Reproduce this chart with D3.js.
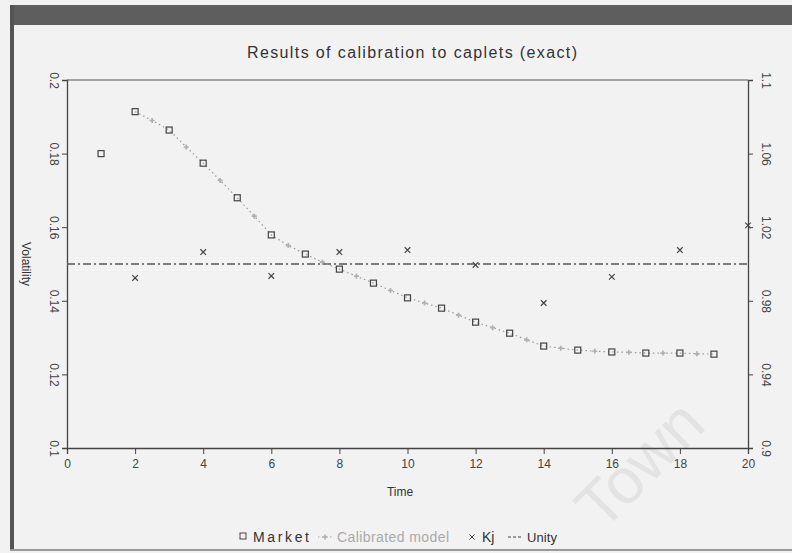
<!DOCTYPE html>
<html><head><meta charset="utf-8">
<script src="https://cdn.jsdelivr.net/npm/d3@7/dist/d3.min.js"></script>
<style>
body{margin:0;background:#f1f1f1;}
text{font-family:"Liberation Sans",Arial,sans-serif;fill:#333;}
</style></head>
<body><svg id="c" width="792" height="553"></svg>
<script>
const marketT = [1,2,3,4,5,6,7,8,9,10,11,12,13,14,15,16,17,18,19];
const marketV = [0.180,0.1914,0.1864,0.1774,0.168,0.1579,0.1527,0.1486,0.1448,0.1408,0.138,0.1342,0.1312,0.1277,0.1266,0.1261,0.1258,0.1258,0.1255];
const modelT = [2,2.5,3,3.5,4,4.5,5,5.5,6,6.5,7,7.5,8,8.5,9,9.5,10,10.5,11,11.5,12,12.5,13,13.5,14,14.5,15,15.5,16,16.5,17,17.5,18,18.5,19];
const modelV = [0.1914,0.189,0.1864,0.1818,0.1774,0.1727,0.168,0.163,0.1579,0.155,0.1527,0.1505,0.1486,0.1467,0.1448,0.1428,0.1408,0.1394,0.138,0.1361,0.1342,0.1327,0.1312,0.1294,0.1277,0.1271,0.1266,0.1263,0.1261,0.126,0.1258,0.1258,0.1258,0.1256,0.1255];
const kjT = [2,4,6,8,10,12,14,16,18,20];
const kjV = [0.9924,1.0065,0.9935,1.0065,1.0076,0.9995,0.9788,0.993,1.0076,1.021];
const unityT = [0,20];
const unityV = [1,1];
const xTicks = [0,2,4,6,8,10,12,14,16,18,20];
const yTicksL = [0.1,0.12,0.14,0.16,0.18,0.2];
const yTicksR = [0.9,0.94,0.98,1.02,1.06,1.1];
const title = "Results of calibration to caplets (exact)";
const legendLabels = ["Market","Calibrated model","Kj","Unity"];

const svg = d3.select("#c");
const L=67,R=748,T=80,B=448;
const x = d3.scaleLinear().domain([0,20]).range([L,R]);
const yL = d3.scaleLinear().domain([0.1,0.2]).range([B,T]);
const yR = d3.scaleLinear().domain([0.9,1.1]).range([B,T]);

// window frame
svg.append("rect").attr("x",0).attr("y",0).attr("width",792).attr("height",553).attr("fill","#f2f2f2");
svg.append("rect").attr("x",10).attr("y",5).attr("width",782).attr("height",20).attr("fill","#5e5e5e");
svg.append("rect").attr("x",10).attr("y",5).attr("width",4).attr("height",546).attr("fill","#555");
svg.append("rect").attr("x",10).attr("y",549).attr("width",782).attr("height",2).attr("fill","#999");

// watermark
svg.append("text").attr("transform","translate(655,480) rotate(-45)").attr("text-anchor","middle")
  .style("font-size","64px").style("fill","#e3e3e3").text("Town");

// title
svg.append("text").attr("x",247).attr("y",58).attr("textLength",330).attr("lengthAdjust","spacing")
  .style("font-size","16px").text(title);

// frame line top
svg.append("line").attr("x1",L).attr("x2",R).attr("y1",T).attr("y2",T).attr("stroke","#555").attr("stroke-width",1.2);

// axes
const ax = svg.append("g").attr("transform",`translate(0,${B})`).call(d3.axisBottom(x).tickValues(xTicks).tickSize(6).tickFormat(d3.format("d")));
const axL = svg.append("g").attr("transform",`translate(${L},0)`).call(d3.axisLeft(yL).tickValues(yTicksL).tickSize(5).tickFormat(d=>d3.format(".2~f")(d)));
const axR = svg.append("g").attr("transform",`translate(${R},0)`).call(d3.axisRight(yR).tickValues(yTicksR).tickSize(5).tickFormat(d=>d3.format(".2~f")(d)));
[ax,axL,axR].forEach(g=>{g.select(".domain").attr("stroke","#444").attr("stroke-width",1.3);g.selectAll(".tick line").attr("stroke","#444");g.selectAll("text").style("font-size","12px").style("fill","#444").style("font-family","Liberation Sans, Arial");});
ax.selectAll(".tick text").attr("dy","0.95em");
axL.selectAll(".tick text").attr("x",null).attr("dy",null).attr("text-anchor","middle").attr("transform","translate(-13,0) rotate(90)").attr("dy","0.35em");
axR.selectAll(".tick text").attr("x",null).attr("dy",null).attr("text-anchor","middle").attr("transform","translate(18,0) rotate(90)").attr("dy","0.35em");

svg.append("text").attr("x",400).attr("y",496).attr("text-anchor","middle").style("font-size","12px").text("Time");
svg.append("text").attr("transform","translate(22,264) rotate(90)").attr("text-anchor","middle").style("font-size","12px").text("Volatility");

// unity
svg.append("path").datum(unityT.map((t,i)=>[t,unityV[i]]))
  .attr("d",d3.line().x(d=>x(d[0])).y(d=>yR(d[1]))).attr("fill","none").attr("stroke","#555").attr("stroke-width",1.3).attr("stroke-dasharray","8,3,2,3");

// model
const md = modelT.map((t,i)=>[t,modelV[i]]);
svg.append("path").datum(md).attr("d",d3.line().x(d=>x(d[0])).y(d=>yL(d[1]))).attr("fill","none").attr("stroke","#999").attr("stroke-width",1.2).attr("stroke-dasharray","1.5,3");
svg.append("g").selectAll("path").data(md.filter(d=>d[0]%1!==0)).join("path")
  .attr("d",d3.symbol(d3.symbolCross,14)).attr("transform",d=>`translate(${x(d[0])},${yL(d[1])})`).attr("fill","#b0b0b0");

// market
svg.append("g").selectAll("rect").data(marketT.map((t,i)=>[t,marketV[i]])).join("rect")
  .attr("x",d=>x(d[0])-3).attr("y",d=>yL(d[1])-3).attr("width",6).attr("height",6)
  .attr("fill","none").attr("stroke","#444").attr("stroke-width",1.2);

// Kj
svg.append("g").selectAll("path").data(kjT.map((t,i)=>[t,kjV[i]])).join("path")
  .attr("d",d3.symbol(d3.symbolX,22)).attr("transform",d=>`translate(${x(d[0])},${yR(d[1])})`).attr("stroke","#444").attr("stroke-width",1.2).attr("fill","none");

// legend
const lg = svg.append("g").attr("transform","translate(0,537)");
lg.append("rect").attr("x",240).attr("y",-4).attr("width",6).attr("height",6).attr("fill","none").attr("stroke","#444");
lg.append("text").attr("x",253).attr("y",5).attr("textLength",56).attr("lengthAdjust","spacing").style("font-size","14px").text(legendLabels[0]);
lg.append("line").attr("x1",318).attr("x2",332).attr("y1",0).attr("y2",0).attr("stroke","#aaa").attr("stroke-dasharray","1.5,2.5");
lg.append("path").attr("d",d3.symbol(d3.symbolCross,14)).attr("transform","translate(325,0)").attr("fill","#b0b0b0");
lg.append("text").attr("x",337).attr("y",5).attr("textLength",112).attr("lengthAdjust","spacing").style("font-size","14px").style("fill","#aaa").text(legendLabels[1]);
lg.append("path").attr("d",d3.symbol(d3.symbolX,20)).attr("transform","translate(472,0)").attr("stroke","#444").attr("fill","none");
lg.append("text").attr("x",482).attr("y",5).style("font-size","14px").text(legendLabels[2]);
lg.append("line").attr("x1",508).attr("x2",522).attr("y1",0).attr("y2",0).attr("stroke","#444").attr("stroke-dasharray","3,2");
lg.append("text").attr("x",527).attr("y",5).attr("textLength",30).attr("lengthAdjust","spacing").style("font-size","13px").text(legendLabels[3]);
</script></body></html>
